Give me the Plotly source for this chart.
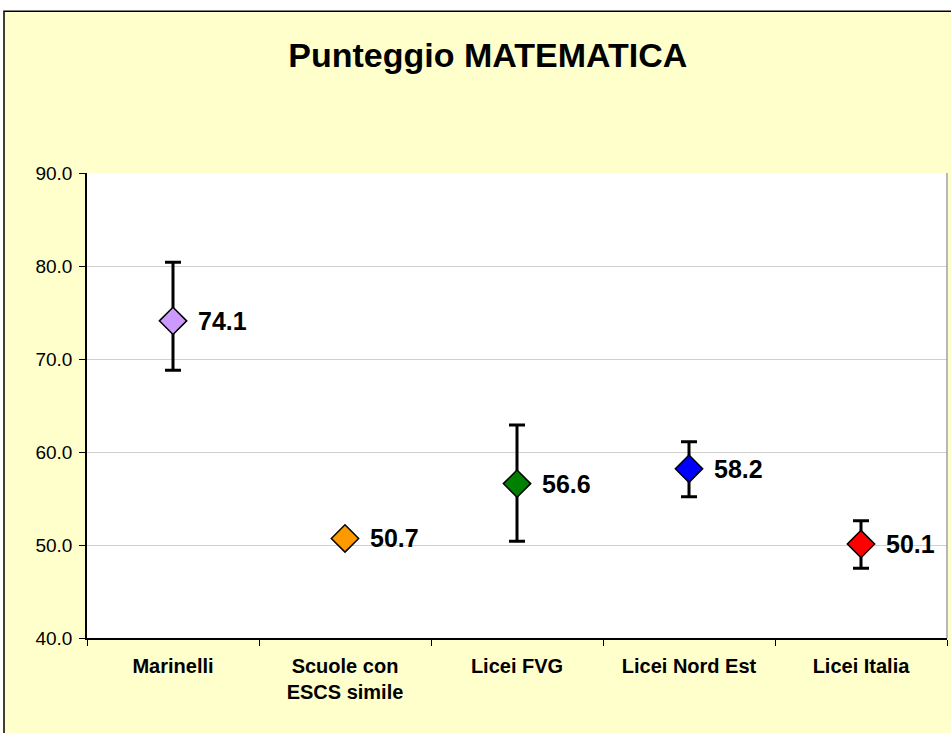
import plotly.graph_objects as go

categories = ["Marinelli", "Scuole con<br>ESCS simile", "Licei FVG", "Licei Nord Est", "Licei Italia"]
scores = [74.1, 50.7, 56.6, 58.2, 50.1]
err_plus = [6.3, None, 6.3, 2.9, 2.5]
err_minus = [5.3, None, 6.2, 3.0, 2.6]
colors = ["#CC99FF", "#FF9900", "#008000", "#0000FF", "#FF0000"]
y_ticks = [40, 50, 60, 70, 80, 90]

FONT = "Liberation Sans, Arial, sans-serif"

fig = go.Figure()
fig.add_trace(go.Scatter(
    x=categories, y=scores, mode="markers",
    marker=dict(symbol="diamond", size=21, color=colors,
                line=dict(color="black", width=1.5)),
    error_y=dict(type="data", symmetric=False, array=err_plus, arrayminus=err_minus,
                 color="black", thickness=3, width=8),
    showlegend=False, hoverinfo="x+y",
))

for c, v in zip(categories, scores):
    fig.add_annotation(x=c, y=v, text=f"<b>{v:.1f}</b>", showarrow=False,
                       xanchor="left", yanchor="middle", xshift=23,
                       font=dict(family=FONT, size=25, color="black"))

# outer chart frame and plot area background
fig.add_shape(type="rect", xref="paper", yref="paper",
              x0=-0.0965, x1=1.05, y0=-0.3, y1=1.348,
              fillcolor="#FFFFCC", line=dict(color="black", width=1.5), layer="below")
fig.add_shape(type="rect", xref="paper", yref="paper",
              x0=0, x1=1, y0=0, y1=1,
              fillcolor="white", line=dict(width=0), layer="below")
fig.add_shape(type="line", xref="paper", yref="paper",
              x0=1, x1=1, y0=0, y1=1, line=dict(color="#A0A0A0", width=1.5))

fig.update_layout(
    width=951, height=733,
    margin=dict(l=87, r=4, t=173, b=95),
    paper_bgcolor="white", plot_bgcolor="rgba(0,0,0,0)",
    title=dict(text="<b>Punteggio MATEMATICA</b>", x=0.513, xanchor="center",
               y=1 - 55 / 733, yanchor="middle",
               font=dict(family=FONT, size=34, color="black")),
    font=dict(family=FONT, color="black"),
)
fig.update_xaxes(
    type="category", tickson="boundaries", ticks="outside", ticklen=6, tickcolor="black",
    showline=True, linecolor="black", linewidth=1.5, showgrid=False,
    tickfont=dict(family=FONT, size=20, color="black"),
    tickprefix="<b>", ticksuffix="</b>", ticklabelstandoff=9,
    range=[-0.5, 4.5],
)
fig.update_yaxes(
    range=[40, 90], tickvals=y_ticks, tickformat=".1f", ticks="outside", ticklen=6,
    tickcolor="black", showline=True, linecolor="black", linewidth=1.5,
    showgrid=True, gridcolor="#D0D0D0", gridwidth=1, ticklabelstandoff=3,
    tickfont=dict(family=FONT, size=19, color="black"), zeroline=False,
)

fig.write_html("out.html", config={"displayModeBar": False},
               post_script="document.body.style.margin='0';")
